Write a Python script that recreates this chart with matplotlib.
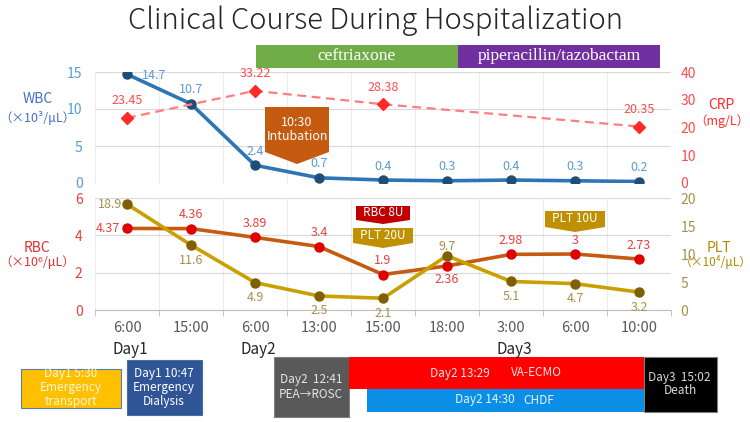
import matplotlib
matplotlib.use('Agg')
import matplotlib.pyplot as plt
from matplotlib.patches import Polygon
from matplotlib.transforms import Affine2D, blended_transform_factory

plt.rcParams['font.family'] = ['Noto Sans CJK JP', 'DejaVu Sans']

# ---- data ----
TIMES = ['6:00', '15:00', '6:00', '13:00', '15:00', '18:00', '3:00', '6:00', '10:00']
DAY_POS = [0, 2, 6]
DAY_NAMES = ['Day1', 'Day2', 'Day3']
WBC = [14.7, 10.7, 2.4, 0.7, 0.4, 0.3, 0.4, 0.3, 0.2]
CRP_IDX = [0, 2, 4, 8]
CRP = [23.45, 33.22, 28.38, 20.35]
RBC = [4.37, 4.36, 3.89, 3.4, 1.9, 2.36, 2.98, 3, 2.73]
PLT = [18.9, 11.6, 4.9, 2.5, 2.1, 9.7, 5.1, 4.7, 3.2]

# label placement: r=right, l=left, a=above, b=below
WBC_POS = ['r', 'a', 'a', 'a', 'a', 'a', 'a', 'a', 'a']
CRP_POS = ['a', 'a', 'a', 'a']
RBC_POS = ['l', 'a', 'a', 'a', 'a', 'b', 'a', 'a', 'a']
PLT_POS = ['l', 'b', 'b', 'b', 'b', 'a', 'b', 'b', 'b']

C_WBC_LINE, C_WBC_MK, C_WBC_TXT = '#2E75B6', '#1F4E79', '#5B9BD5'
C_CRP_LINE, C_CRP_MK, C_CRP_TXT = '#FF7C80', '#FF2B2B', '#FF4B4B'
C_RBC_LINE, C_RBC_MK, C_RBC_TXT = '#C55A11', '#E00000', '#E8403F'
C_PLT_LINE, C_PLT_MK, C_PLT_TXT = '#C9A000', '#7F6000', '#A8904A'

W, H = 750, 422
fig = plt.figure(figsize=(W / 100, H / 100), dpi=100)
PX = Affine2D().scale(1 / W, -1 / H).translate(0, 1) + fig.transFigure


def rect_px(x0, y0, x1, y1):
    return [x0 / W, 1 - y1 / H, (x1 - x0) / W, (y1 - y0) / H]


def label_points(ax, xs, ys, pos, color, dy=14, dx=7, size=9):
    for x, y, p in zip(xs, ys, pos):
        if p == 'a':
            off, ha, va = (0, dy), 'center', 'center'
        elif p == 'b':
            off, ha, va = (0, -dy), 'center', 'center'
        elif p == 'r':
            off, ha, va = (dx + 8, -1), 'left', 'center'
        else:
            off, ha, va = (-dx, 0), 'right', 'center'
        ax.annotate(str(y), (x, y), xytext=off, textcoords='offset pixels',
                    ha=ha, va=va, color=color, fontsize=size)


def style_axes(ax, left_color, show_x=False):
    ax.set_xlim(-0.5, len(TIMES) - 0.5)
    for s in ax.spines.values():
        s.set_visible(False)
    ax.set_xticks(range(len(TIMES)))
    ax.set_xticks([i + 0.5 for i in range(-1, len(TIMES))], minor=True)
    ax.grid(True, axis='y', color='#D9D9D9', lw=0.8)
    ax.grid(True, axis='x', which='minor', color='#EDEDED', lw=0.8)
    ax.grid(False, axis='x', which='major')
    ax.tick_params(axis='y', length=0, pad=9, labelsize=10, labelcolor=left_color)
    if show_x:
        ax.spines['bottom'].set_visible(True)
        ax.spines['bottom'].set_color('#BFBFBF')
        ax.set_xticklabels(TIMES)
        ax.tick_params(axis='x', which='major', length=0, pad=8, labelsize=10.5,
                       labelcolor='#595959')
        ax.tick_params(axis='x', which='minor', length=4, color='#BFBFBF')
    else:
        ax.tick_params(axis='x', which='both', length=0, labelbottom=False)
    ax.set_axisbelow(True)


x = list(range(len(TIMES)))

# ---- top panel: WBC / CRP ----
ax_w = fig.add_axes(rect_px(95, 72, 671, 183))
style_axes(ax_w, C_WBC_TXT)
ax_w.set_ylim(0, 15)
ax_w.set_yticks([0, 5, 10, 15])
ax_w.plot(x, WBC, color=C_WBC_LINE, lw=2.6, marker='o', ms=6.5,
          mfc=C_WBC_MK, mec=C_WBC_MK, zorder=3)
label_points(ax_w, x, WBC, WBC_POS, C_WBC_TXT)

ax_c = ax_w.twinx()
ax_c.set_ylim(0, 40)
ax_c.set_yticks([0, 10, 20, 30, 40])
for s in ax_c.spines.values():
    s.set_visible(False)
ax_c.tick_params(axis='y', length=0, pad=7, labelsize=10, labelcolor=C_CRP_TXT)
ax_c.plot(CRP_IDX, CRP, color=C_CRP_LINE, lw=1.6, ls=(0, (4, 2.5)), marker='D', ms=6,
          mfc=C_CRP_MK, mec=C_CRP_MK, zorder=3)
label_points(ax_c, CRP_IDX, CRP, CRP_POS, C_CRP_TXT, dy=17)

# ---- bottom panel: RBC / PLT ----
ax_r = fig.add_axes(rect_px(95, 198, 671, 310))
style_axes(ax_r, C_RBC_TXT, show_x=True)
ax_r.set_ylim(0, 6)
ax_r.set_yticks([0, 2, 4, 6])
ax_r.plot(x, RBC, color=C_RBC_LINE, lw=2.6, marker='o', ms=6.5,
          mfc=C_RBC_MK, mec=C_RBC_MK, zorder=3)
label_points(ax_r, x, RBC, RBC_POS, C_RBC_TXT, dy=14)

ax_p = ax_r.twinx()
ax_p.set_ylim(0, 20)
ax_p.set_yticks([0, 5, 10, 15, 20])
for s in ax_p.spines.values():
    s.set_visible(False)
ax_p.tick_params(axis='y', length=0, pad=7, labelsize=10, labelcolor=C_PLT_TXT)
ax_p.plot(x, PLT, color=C_PLT_LINE, lw=2.6, marker='o', ms=6.5,
          mfc=C_PLT_MK, mec=C_PLT_MK, zorder=3)
plt_pos_dy = [15 if p != 'a' else 9 for p in PLT_POS]
for xi, yi, p, d in zip(x, PLT, PLT_POS, plt_pos_dy):
    label_points(ax_p, [xi], [yi], [p], C_PLT_TXT, dy=d, dx=5)

# day labels
tr = blended_transform_factory(ax_r.transData, PX)
for pos, name in zip(DAY_POS, DAY_NAMES):
    fig.text(pos + 0.05, 349, name, transform=tr, ha='center', va='center',
             fontsize=11, color='#262626')

# ---- axis titles ----
fig.text(38, 99, 'WBC', transform=PX, ha='center', va='center', fontsize=10, color='#4472C4')
fig.text(37, 118, '（×10³/μL）', transform=PX, ha='center', va='center', fontsize=9, color='#4472C4')
fig.text(721, 105, 'CRP', transform=PX, ha='center', va='center', fontsize=10, color='#FF2B2B')
fig.text(722, 121, '（mg/L）', transform=PX, ha='center', va='center', fontsize=9, color='#FF2B2B')
fig.text(37, 248, 'RBC', transform=PX, ha='center', va='center', fontsize=10, color='#E03030')
fig.text(37, 262, '（×10⁶/μL）', transform=PX, ha='center', va='center', fontsize=9, color='#E03030')
fig.text(719, 248, 'PLT', transform=PX, ha='center', va='center', fontsize=10, color='#B08A00')
fig.text(716, 262, '（×10⁴/μL）', transform=PX, ha='center', va='center', fontsize=8.5,
         color='#B08A00')

# ---- title ----
fig.text(375, 21, 'Clinical Course During Hospitalization', transform=PX, ha='center',
         va='center', fontsize=21, fontweight='light', color='#262626')


# ---- antibiotic bars ----
def box(x0, y0, x1, y1, fc, ec=None, lw=0.0):
    fig.add_artist(Polygon([(x0, y0), (x1, y0), (x1, y1), (x0, y1)], closed=True,
                           fc=fc, ec=ec if ec else fc, lw=lw, transform=PX))


def txt(xc, yc, s, color, size=8.5, **kw):
    fig.text(xc, yc, s, transform=PX, ha='center', va='center', color=color, fontsize=size, **kw)


box(256, 45, 458, 68, '#70AD47')
box(458, 45, 660, 68, '#7030A0')
txt(357, 56, 'ceftriaxone', 'white', 12.5, family='Liberation Serif')
txt(559, 56, 'piperacillin/tazobactam', 'white', 12.5, family='Liberation Serif')


# ---- callouts ----
def callout(x0, y0, x1, y1, tip_y, fc, lines, size=9):
    xm = (x0 + x1) / 2
    fig.add_artist(Polygon([(x0, y0), (x1, y0), (x1, y1), (xm, tip_y), (x0, y1)], closed=True,
                           fc=fc, ec=fc, lw=0, transform=PX, zorder=5))
    n = len(lines)
    step = 15
    start = (y0 + y1) / 2 - step * (n - 1) / 2
    for i, s in enumerate(lines):
        fig.text(xm, start + i * step, s, transform=PX, ha='center', va='center',
                 color='white', fontsize=size, zorder=6)


callout(265, 107, 329, 152, 164, '#C55A11', ['10:30', 'Intubation'])
callout(356, 206, 410, 220, 224, '#C00000', ['RBC 8U'], 8.5)
callout(353, 228, 413, 243, 248, '#BF9000', ['PLT 20U'], 8.5)
callout(545, 211, 605, 227, 232, '#BF9000', ['PLT 10U'], 8.5)

# ---- timeline ----
box(21, 369, 121, 408, '#FFC000', '#5B7BA8', 0.8)
txt(71, 374, 'Day1 5:30', '#FFF6DA')
txt(71, 388, 'Emergency', '#FFF6DA')
txt(71, 402, 'transport', '#FFF6DA')

box(127, 360, 202, 415, '#2F5597', '#41719C', 0.8)
txt(164, 373, 'Day1 10:47', 'white')
txt(164, 387, 'Emergency', 'white')
txt(164, 401, 'Dialysis', 'white')

box(274, 357, 349, 417, '#595959', '#7F7F7F', 0.8)
txt(311, 380, 'Day2  12:41', '#E6E6E6')
txt(311, 394, 'PEA→ROSC', '#E6E6E6')

box(349, 357, 644, 389, '#FF0000')
txt(460, 373, 'Day2 13:29', '#FFE5E5')
txt(536, 373, 'VA-ECMO', '#FFE5E5')

box(367, 389, 644, 412, '#0B8FE6')
txt(485, 400, 'Day2 14:30', '#E5F3FF')
txt(539, 400, 'CHDF', '#E5F3FF')

box(644, 357, 717, 412, '#000000', '#7F7F7F', 0.8)
txt(679, 378, 'Day3  15:02', '#D9D9D9')
txt(680, 391, 'Death', '#D9D9D9')

fig.savefig('out.png', dpi=100)
